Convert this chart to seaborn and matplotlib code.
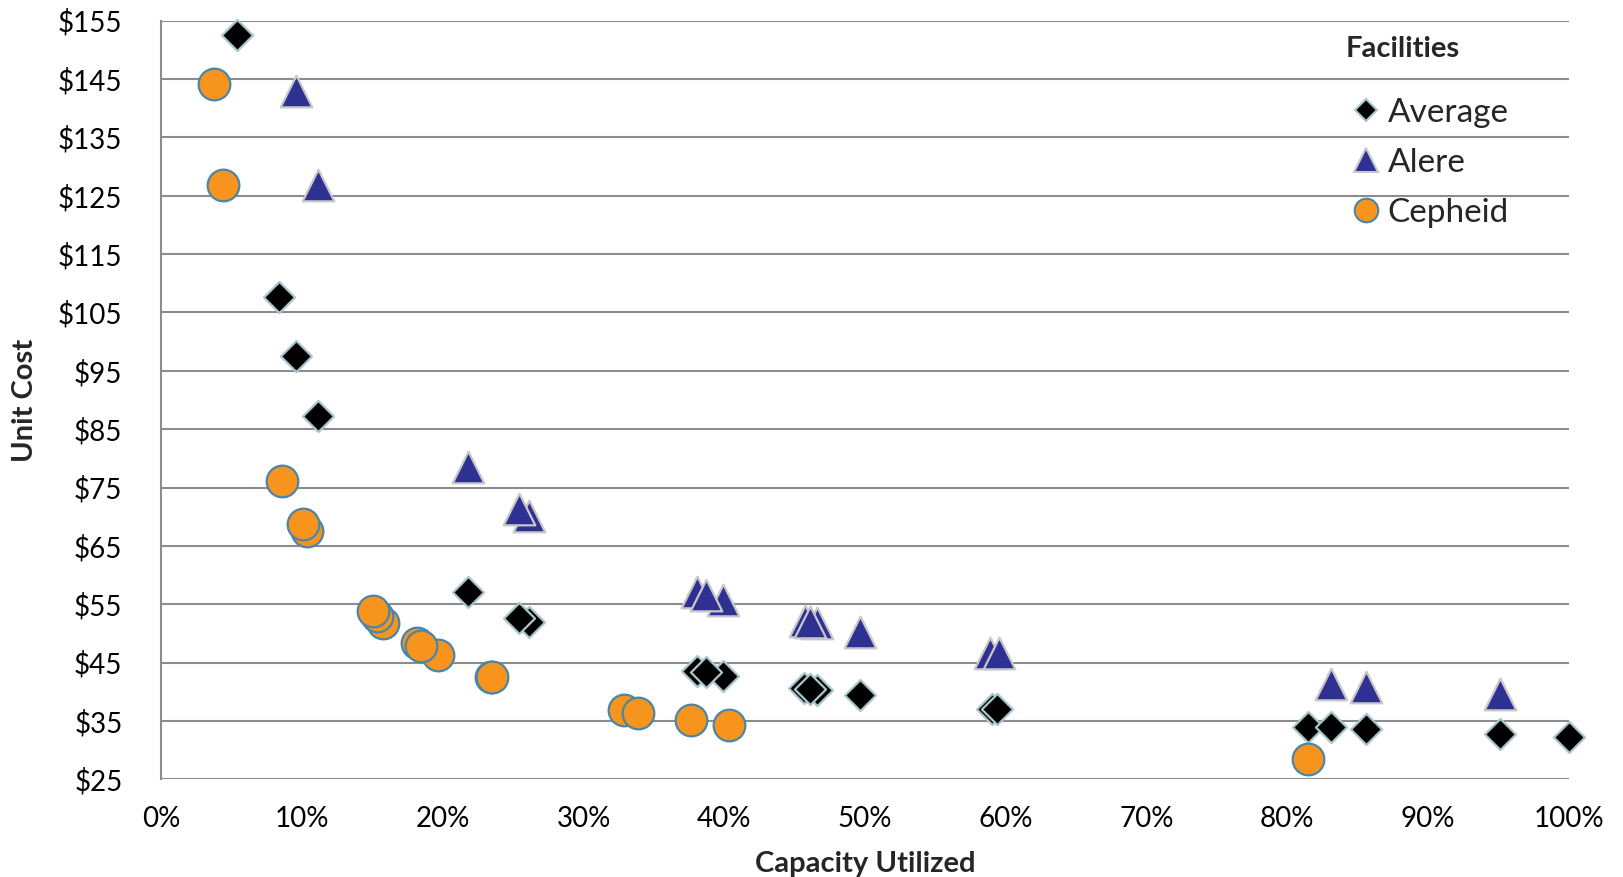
import matplotlib
matplotlib.use("Agg")
import matplotlib.pyplot as plt
import seaborn as sns
import pandas as pd
from matplotlib.lines import Line2D
from matplotlib.ticker import FuncFormatter

# ---- data (capacity utilized as fraction, unit cost in $) ----
avg_x = [0.054, 0.0839, 0.0955, 0.1114, 0.2182, 0.2615, 0.2542, 0.3805, 0.399, 0.3871,
         0.4563, 0.4662, 0.461, 0.4961, 0.590, 0.594, 0.815, 0.831, 0.856, 0.951, 1.000]
avg_y = [152.5, 107.6, 97.5, 87.3, 57.1, 52.0, 52.6, 43.5, 42.7, 43.35,
         40.7, 40.3, 40.4, 39.4, 37.1, 37.0, 33.9, 33.9, 33.6, 32.7, 32.3]

alere_x = [0.0955, 0.1112, 0.2182, 0.2613, 0.2544, 0.3805, 0.399, 0.3871, 0.4575, 0.4662,
           0.461, 0.4961, 0.589, 0.595, 0.831, 0.856, 0.951]
alere_y = [143.0, 126.8, 78.5, 70.2, 71.3, 57.1, 55.7, 56.5, 52.1, 51.8,
           52.0, 50.3, 46.6, 46.6, 41.4, 40.9, 39.6]

cepheid_x = [0.0377, 0.0439, 0.086, 0.1033, 0.1007, 0.1578, 0.1531, 0.1502, 0.1964, 0.1815,
             0.1844, 0.2343, 0.2348, 0.3284, 0.3386, 0.3763, 0.4035, 0.815]
cepheid_y = [144.2, 126.8, 76.2, 67.5, 68.7, 51.8, 52.95, 53.8, 46.3, 48.3,
             47.9, 42.6, 42.5, 36.8, 36.4, 35.1, 34.3, 28.4]

series_names = ["Average", "Alere", "Cepheid"]
y_ticks = list(range(25, 156, 10))
x_ticks = [i / 10 for i in range(11)]

df = pd.concat([
    pd.DataFrame({"x": avg_x, "y": avg_y, "Facility": "Average"}),
    pd.DataFrame({"x": alere_x, "y": alere_y, "Facility": "Alere"}),
    pd.DataFrame({"x": cepheid_x, "y": cepheid_y, "Facility": "Cepheid"}),
], ignore_index=True)

sns.set_style("white")
plt.rcParams["font.family"] = ["Lato", "DejaVu Sans"]

styles = {
    "Average": dict(marker="D", color="#000000", edge="#a8c6cc", s=250),
    "Alere": dict(marker="^", color="#2e3192", edge="#c8c8c8", s=520),
    "Cepheid": dict(marker="o", color="#f7941d", edge="#4a86a8", s=520),
}

fig = plt.figure(figsize=(16.23, 8.77), dpi=100)
ax = fig.add_axes([0.0994, 0.1114, 0.8672, 0.8650])

for name in series_names:
    st = styles[name]
    sub = df[df["Facility"] == name]
    sns.scatterplot(data=sub, x="x", y="y", ax=ax, marker=st["marker"], color=st["color"],
                    edgecolor=st["edge"], linewidth=1.6, s=st["s"], legend=False,
                    clip_on=False, zorder=3)

ax.set_xlim(0, 1.0)
ax.set_ylim(25, 155)
ax.set_yticks(y_ticks)
ax.set_xticks(x_ticks)
ax.xaxis.set_major_formatter(FuncFormatter(lambda v, p: f"{v*100:.0f}%"))
ax.yaxis.set_major_formatter(FuncFormatter(lambda v, p: f"${v:.0f}"))
ax.grid(axis="y", color="#8c8c8c", linewidth=1.5)
ax.grid(axis="x", visible=False)
ax.set_axisbelow(True)
for sp in ["top", "right", "bottom"]:
    ax.spines[sp].set_visible(False)
ax.spines["left"].set_color("#8c8c8c")
ax.spines["left"].set_linewidth(1.5)
ax.tick_params(axis="both", length=0, labelsize=20, colors="black")
ax.tick_params(axis="y", pad=28)
ax.tick_params(axis="x", pad=19)

ax.set_xlabel("Capacity Utilized", fontsize=21, fontweight="bold")
ax.set_ylabel("Unit Cost", fontsize=21, fontweight="bold")
ax.xaxis.set_label_coords(0.5, -0.094)
ax.yaxis.set_label_coords(-0.0876, 0.5)

handles = [
    Line2D([], [], linestyle="none", marker="D", markersize=11, markerfacecolor="#000000",
           markeredgecolor="#a8c6cc", markeredgewidth=1.5),
    Line2D([], [], linestyle="none", marker="^", markersize=17, markerfacecolor="#2e3192",
           markeredgecolor="#c8c8c8", markeredgewidth=1.5),
    Line2D([], [], linestyle="none", marker="o", markersize=17, markerfacecolor="#f7941d",
           markeredgecolor="#4a86a8", markeredgewidth=1.5),
]
leg = ax.legend(handles, series_names, title="Facilities", loc="upper left",
                bbox_to_anchor=(0.825, 1.011), frameon=False, fontsize=24,
                title_fontproperties={"weight": "bold", "size": 21},
                handletextpad=0.05, labelspacing=0.6, handlelength=1.2,
                borderaxespad=0.3)
leg._legend_box.sep = 26
leg._legend_box.align = "left"

fig.savefig("out.png", dpi=100)
